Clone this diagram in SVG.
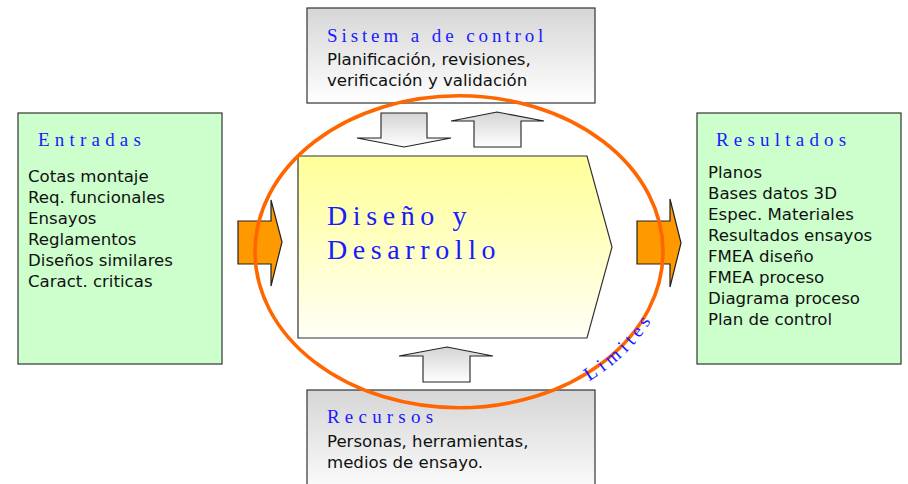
<svg xmlns="http://www.w3.org/2000/svg" width="908" height="484" viewBox="0 0 908 484">
<defs>
<linearGradient id="gGray" x1="0" y1="0" x2="0" y2="1"><stop offset="0" stop-color="#d6d6d6"/><stop offset="1" stop-color="#ffffff"/></linearGradient>
<linearGradient id="gArrow" x1="0" y1="0" x2="0" y2="1"><stop offset="0" stop-color="#d4d4d4"/><stop offset="1" stop-color="#ffffff"/></linearGradient>
<linearGradient id="gYellow" x1="0" y1="0" x2="0" y2="1"><stop offset="0" stop-color="#ffff99"/><stop offset="0.4" stop-color="#ffffbb"/><stop offset="1" stop-color="#fffff6"/></linearGradient>
<path id="limPath" d="M 565 393.8 A 212 164 0 0 0 658.2 307.9"/>
</defs>
<style>
.box{stroke:#333;stroke-width:1.2}
.green{fill:#ccffcc}
.gray{fill:url(#gGray)}
.title{font-family:"Liberation Serif","Times New Roman",serif;font-size:19px;fill:#1a1aff;letter-spacing:5.2px}
.body{font-family:"DejaVu Sans",Verdana,sans-serif;font-size:16.6px;fill:#111111}
.big{font-family:"Liberation Serif","Times New Roman",serif;font-size:28px;fill:#1a1aff;letter-spacing:5.6px}
.orange{fill:#ff9900;stroke:#222;stroke-width:1.2}
.garrow{fill:url(#gArrow);stroke:#222;stroke-width:1.1}
</style>
<rect width="908" height="484" fill="#ffffff"/>

<g id="sistema-control">
<rect class="box gray" x="307" y="8" width="288" height="95"/>
<text class="title" x="327" y="42" style="letter-spacing:3.9px">Sistem a de control</text>
<text class="body" x="327" y="65">Planificación, revisiones,</text>
<text class="body" x="327" y="86">verificación y validación</text>
</g>

<g id="entradas">
<rect class="box green" x="18" y="113" width="204" height="251"/>
<text class="title" x="38" y="146">Entradas</text>
<text class="body" x="28" y="182">Cotas montaje</text>
<text class="body" x="28" y="203">Req. funcionales</text>
<text class="body" x="28" y="224">Ensayos</text>
<text class="body" x="28" y="245">Reglamentos</text>
<text class="body" x="28" y="266">Diseños similares</text>
<text class="body" x="28" y="287">Caract. criticas</text>
</g>

<g id="resultados">
<rect class="box green" x="697" y="113" width="204" height="251"/>
<text class="title" x="716" y="146">Resultados</text>
<text class="body" x="708" y="178">Planos</text>
<text class="body" x="708" y="199">Bases datos 3D</text>
<text class="body" x="708" y="220">Espec. Materiales</text>
<text class="body" x="708" y="241">Resultados ensayos</text>
<text class="body" x="708" y="262">FMEA diseño</text>
<text class="body" x="708" y="283">FMEA proceso</text>
<text class="body" x="708" y="304">Diagrama proceso</text>
<text class="body" x="708" y="325">Plan de control</text>
</g>

<g id="recursos">
<rect class="box gray" x="307" y="390" width="288" height="110"/>
<text class="title" x="327" y="423">Recursos</text>
<text class="body" x="327" y="447">Personas, herramientas,</text>
<text class="body" x="327" y="468">medios de ensayo.</text>
</g>

<g id="diseno-desarrollo">
<polygon points="298,156 587,156 612,247 587,338 298,338" fill="url(#gYellow)" stroke="#333" stroke-width="1.2"/>
<text class="big" x="327" y="225">Diseño y</text>
<text class="big" x="327" y="259">Desarrollo</text>
</g>

<g id="connectors">
<polygon class="orange" points="238,221 271,221 271,200 282,242 271,286 271,264 238,264"/>
<polygon class="orange" points="637,221 670,221 670,199 681,243 670,287 670,264 637,264"/>
<polygon class="garrow" points="381,113 427,113 427,138 451,138 404,147 357,138 381,138"/>
<polygon class="garrow" points="474,147 521,147 521,121 544,121 497,112 451,121 474,121"/>
<polygon class="garrow" points="423,382 470,382 470,356 493,356 447,347 399,356 423,356"/>
</g>

<g id="limites">
<ellipse cx="459" cy="251.8" rx="204" ry="156" fill="none" stroke="#ff6600" stroke-width="3.6"/>
<text class="title" style="font-size:19.5px;letter-spacing:4.6px"><textPath href="#limPath" startOffset="27">Limites</textPath></text>
</g>
</svg>
